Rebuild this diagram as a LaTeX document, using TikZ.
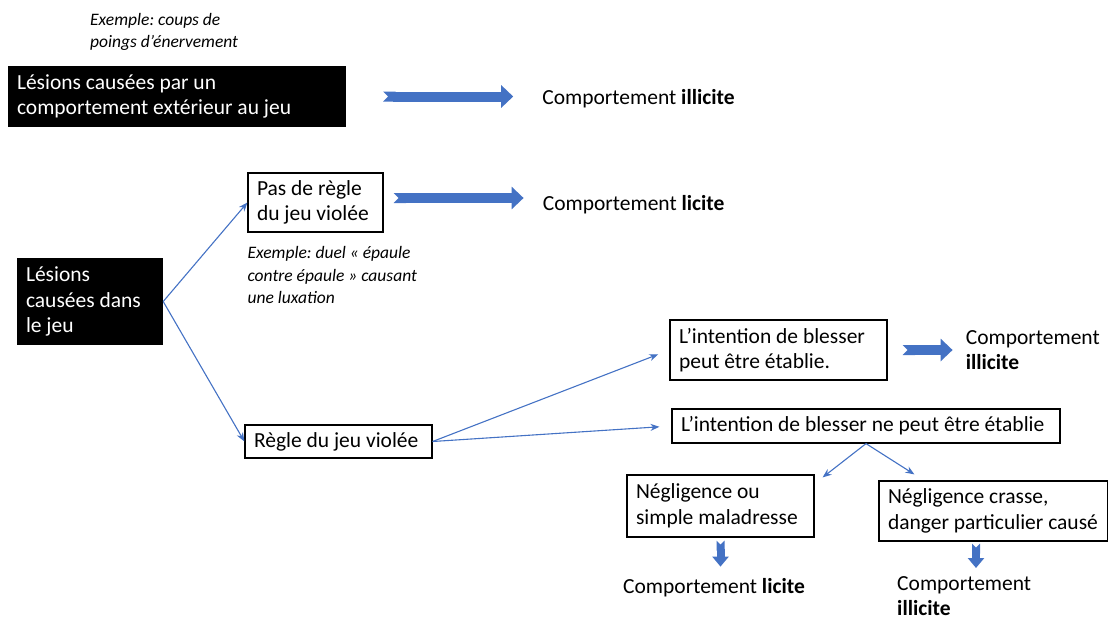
\documentclass[tikz,border=0pt]{standalone}
\usepackage{fontspec}
\setmainfont{Carlito}
\usetikzlibrary{positioning,arrows.meta}
\definecolor{offblue}{HTML}{4472C4}
\frenchspacing

\tikzset{
  blackbox/.style={fill=black, text=white, align=flush left, inner xsep=9pt, inner ysep=2pt, font=\fontsize{21.5}{25.5}\selectfont},
  whitebox/.style={draw=black, line width=1.2pt, fill=white, align=flush left, inner xsep=9pt, inner ysep=2pt, font=\fontsize{21.5}{25.5}\selectfont},
  result/.style={align=flush left, inner sep=0pt, font=\fontsize{21.5}{25.5}\selectfont},
  example/.style={align=flush left, inner sep=0pt, font=\fontsize{17.5}{22.5}\selectfont\itshape},
  link/.style={draw=offblue, line width=1.1pt, -{Stealth[length=9pt,width=7pt]}},
  bigarrow/.style={draw=offblue, line width=10pt, {Triangle Cap[reversed, length=5pt]}-{Triangle[length=12pt,width=22pt]}},
  smallarrow/.style={draw=offblue, line width=8pt, {Triangle Cap[reversed, length=4pt]}-{Triangle[length=10pt,width=16pt]}},
}

\begin{document}
\begin{tikzpicture}[x=1pt, y=1pt]
\useasboundingbox (0,0) rectangle (1108,-619);

\node[blackbox, text width=320pt, minimum height=61pt] (ext) at (177,-96.5) {Lésions causées par un\\comportement extérieur au jeu};
\node[example, anchor=west] (ex1) at (90,-32) {Exemple: coups de\\poings d’énervement};
\node[result, right = 196pt of ext, yshift=-2pt] (res1) {Comportement \textbf{illicite}};

\node[blackbox, text width=128pt, minimum height=87pt] (jeu) at (90,-301.5) {Lésions\\causées dans\\le jeu};
\node[whitebox, text width=117pt, minimum height=59pt] (pas) at (315.5,-202.5) {Pas de règle\\du jeu violée};
\node[result, right = 159pt of pas, yshift=-2pt] (res2) {Comportement \textbf{licite}};
\node[example, below right = 14pt and 0pt of pas.south west] (ex2) {Exemple: duel « épaule\\contre épaule » causant\\une luxation};
\node[whitebox, text width=169pt, minimum height=33pt] (regle) at (338.5,-441.5) {Règle du jeu violée};

\node[whitebox, text width=199pt, minimum height=60pt] (int1) at (778.5,-350) {L’intention de blesser\\peut être établie.};
\node[result, right = 78pt of int1] (res3) {Comportement\\\textbf{illicite}};
\node[whitebox, text width=370pt, minimum height=34pt] (int2) at (866,-426) {L’intention de blesser ne peut être établie};

\node[whitebox, text width=169pt, minimum height=62pt] (neg1) at (720.5,-506) {Négligence ou\\simple maladresse};
\node[whitebox, text width=211pt, minimum height=60pt] (neg2) at (993.5,-511) {Négligence crasse,\\danger particulier causé};
\node[result, below = 41pt of neg1, xshift=-6.5pt] (res4) {Comportement \textbf{licite}};
\node[result, anchor=north west] (res5) at (897,-576) {Comportement\\\textbf{illicite}};

\draw[bigarrow, shorten <=37pt, shorten >=29pt] (ext.east) -- (ext.east -| res1.west);
\draw[bigarrow, shorten <=10pt, shorten >=19pt] ([yshift=4.5pt]pas.east) -- ([yshift=4.5pt]pas.east -| res2.west);
\draw[bigarrow, shorten <=15pt, shorten >=13pt] (int1.east) -- (int1.east -| res3.west);

\draw[link] (jeu.east) -- (pas.west);
\draw[link] (jeu.east) -- (regle.west);
\draw[link, shorten >=12pt] (regle.east) -- (int1.west);
\draw[link, shorten >=12pt] (regle.east) -- (int2.west);
\draw[link] (int2.south) -- ([xshift=8pt, yshift=-3pt]neg1.north east);
\draw[link] (int2.south) -- ([xshift=36pt, yshift=6pt]neg2.north west);

\coordinate (d4) at (neg1.south);
\coordinate (d5) at ([xshift=-17.5pt]neg2.south);
\draw[smallarrow, shorten <=3pt, shorten >=12pt] (d4) -- (d4 |- res4.north);
\draw[smallarrow, shorten <=2pt, shorten >=8pt] (d5) -- (d5 |- res5.north);
\end{tikzpicture}
\end{document}
